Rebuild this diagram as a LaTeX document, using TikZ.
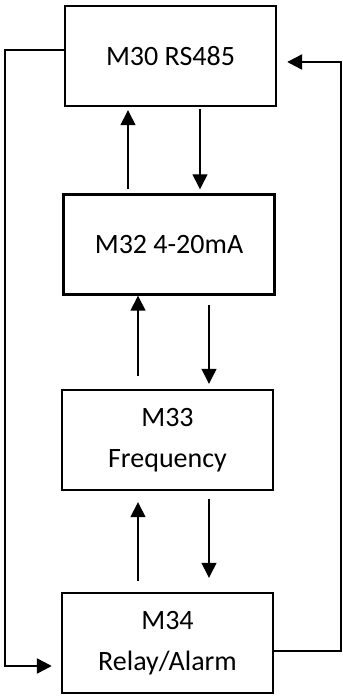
\documentclass[tikz,border=0pt]{standalone}
\usepackage{fontspec}
\setmainfont{Carlito}
\usetikzlibrary{arrows.meta}

\begin{document}
\begin{tikzpicture}[x=1pt,y=1pt,line join=miter,
  module/.style={draw,line width=2.4pt,minimum width=211pt,minimum height=100pt,inner sep=0pt,
    align=center,font=\fontsize{28}{41}\selectfont},
  flow/.style={line width=1.4pt,-{Triangle[length=15pt,width=15pt]}},
  feedback/.style={line width=2.4pt,-{Triangle[length=15pt,width=15pt]}}]
  \useasboundingbox (0,0) rectangle (343,697);
  \node[module] (m30) at (170.5,641) {M30 RS485};
  \node[module] (m32) at (169,452.5) {M32 4-20mA};
  \node[module] (m33) at (167.5,257) {M33\\Frequency};
  \node[module] (m34) at (167.5,54) {M34\\Relay/Alarm};
  % up and down between the modules
  \draw[flow,shorten <=4pt,shorten >=3pt] ([xshift=-41pt]m32.north) -- ([xshift=-42.5pt]m30.south);
  \draw[flow,shorten <=2pt,shorten >=4pt] ([xshift=29.5pt]m30.south) -- ([xshift=31pt]m32.north);
  \draw[flow,shorten <=13pt] ([xshift=-29.5pt]m33.north) -- ([xshift=-31pt]m32.south);
  \draw[flow,shorten <=9pt,shorten >=5pt] ([xshift=40pt]m32.south) -- ([xshift=41.5pt]m33.north);
  \draw[flow,shorten <=11pt,shorten >=11pt] ([xshift=-29.5pt]m34.north) -- ([xshift=-29.5pt]m33.south);
  \draw[flow,shorten <=8pt,shorten >=14pt] ([xshift=41.5pt]m33.south) -- ([xshift=41.5pt]m34.north);
  % outer loops
  \draw[feedback,shorten >=9pt] ([yshift=6pt]m30.west) -- (5,647) -- (5,31) -- ([yshift=-23pt]m34.west);
  \draw[feedback,shorten >=10pt] ([yshift=-8pt]m34.east) -- (341,46) -- (341,635) -- ([yshift=-6pt]m30.east);
\end{tikzpicture}
\end{document}
